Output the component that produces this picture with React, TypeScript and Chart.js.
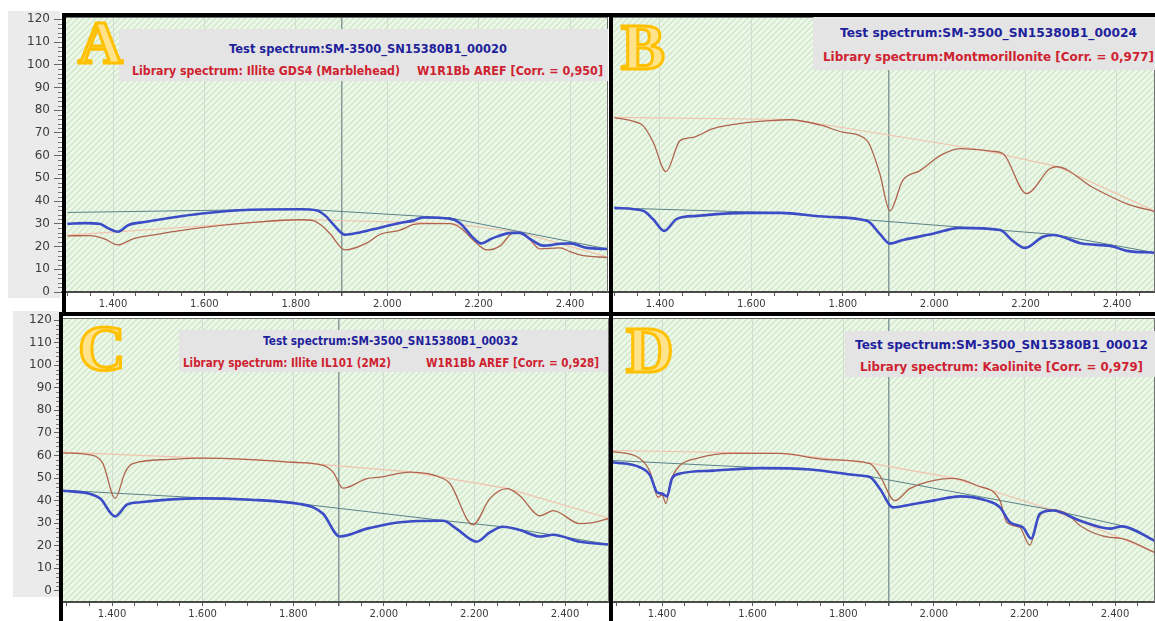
import React, { useEffect, useLayoutEffect, useRef } from 'react';
import { Chart, registerables } from 'chart.js';

Chart.register(...registerables);

type Pt = [number, number];

// ---- axis ticks ----
const xLabelTicks = [1.4, 1.6, 1.8, 2.0, 2.2, 2.4];
const xMinorTicks = [1.30, 1.35, 1.45, 1.50, 1.55, 1.65, 1.70, 1.75, 1.85, 1.90, 1.95, 2.05, 2.10, 2.15, 2.25, 2.30, 2.35, 2.45];
const markerWavelength = 1.9;
const yTicks = [0, 10, 20, 30, 40, 50, 60, 70, 80, 90, 100, 110, 120];

// ---- Panel A: test SM-3500_SN15380B1_00020 vs Illite GDS4 ----
const aTest: Pt[] = [[1.30,30.0],[1.34,30.3],[1.37,30.0],[1.39,28.0],[1.411,26.5],[1.433,29.4],[1.47,30.8],[1.59,34.4],[1.70,36.2],[1.81,36.4],[1.846,35.9],[1.865,33.5],[1.881,30.0],[1.908,25.2],[1.94,26.2],[1.984,28.3],[2.028,30.4],[2.056,31.4],[2.078,32.8],[2.137,32.3],[2.159,30.4],[2.185,24.5],[2.205,21.4],[2.23,23.6],[2.273,26.0],[2.29,26.0],[2.315,23.0],[2.341,20.4],[2.378,21.2],[2.40,21.4],[2.437,19.4],[2.483,18.9]];
const aTestHull: Pt[] = [[1.30,35.0],[1.81,36.5],[2.137,32.6],[2.483,18.9]];
const aLib: Pt[] = [[1.30,24.7],[1.35,24.8],[1.38,23.5],[1.411,20.7],[1.444,23.4],[1.50,25.5],[1.59,28.2],[1.70,30.5],[1.809,31.8],[1.838,31.4],[1.858,29.0],[1.875,25.6],[1.908,18.5],[1.956,21.6],[1.984,25.3],[2.028,27.2],[2.056,29.6],[2.078,30.1],[2.137,30.1],[2.159,28.4],[2.197,21.2],[2.218,18.5],[2.247,20.3],[2.273,25.7],[2.29,26.2],[2.31,23.5],[2.334,19.0],[2.378,19.4],[2.40,17.8],[2.422,16.3],[2.483,15.1]];
const aLibHull: Pt[] = [[1.30,25.0],[1.809,31.9],[2.137,30.2],[2.29,26.3],[2.483,15.3]];

// ---- Panel B: test SM-3500_SN15380B1_00024 vs Montmorillonite ----
const bTest: Pt[] = [[1.30,37.0],[1.363,35.7],[1.385,32.0],[1.409,26.9],[1.437,32.2],[1.481,33.5],[1.59,34.8],[1.663,34.8],[1.765,33.1],[1.853,31.3],[1.881,25.6],[1.903,21.3],[1.932,22.9],[1.997,25.6],[2.056,28.2],[2.144,27.3],[2.172,22.5],[2.199,19.4],[2.238,24.3],[2.26,25.1],[2.326,21.2],[2.385,20.3],[2.422,18.1],[2.483,17.3]];
const bTestHull: Pt[] = [[1.30,37.0],[1.65,34.9],[2.26,25.4],[2.483,17.3]];
const bLib: Pt[] = [[1.30,76.7],[1.34,75.2],[1.363,73.2],[1.385,66.0],[1.413,53.0],[1.444,66.6],[1.472,68.0],[1.516,71.9],[1.59,74.5],[1.641,75.4],[1.684,75.8],[1.75,73.5],[1.80,70.3],[1.853,66.6],[1.881,52.0],[1.903,35.7],[1.931,49.0],[1.969,53.4],[2.013,60.0],[2.056,63.1],[2.129,61.9],[2.151,60.8],[2.202,43.3],[2.253,54.2],[2.268,55.1],[2.347,46.0],[2.422,38.8],[2.483,35.4]];
const bLibHull: Pt[] = [[1.30,76.8],[1.69,75.9],[2.10,62.6],[2.268,55.3],[2.483,35.6]];

// ---- Panel C: test SM-3500_SN15380B1_00032 vs Illite IL101 (2M2) ----
const cTest: Pt[] = [[1.29,44.4],[1.351,43.0],[1.374,40.9],[1.407,33.0],[1.433,38.2],[1.462,39.3],[1.594,41.0],[1.705,40.4],[1.815,38.5],[1.844,37.0],[1.866,34.2],[1.903,24.1],[1.963,27.6],[1.992,28.9],[2.036,30.4],[2.064,30.9],[2.131,31.1],[2.16,27.6],[2.205,21.8],[2.234,25.9],[2.263,28.4],[2.30,27.0],[2.345,24.1],[2.374,24.9],[2.433,21.8],[2.497,20.6]];
const cTestHull: Pt[] = [[1.29,44.6],[1.60,41.2],[1.705,40.6],[1.815,38.6],[2.131,31.2],[2.263,28.4],[2.497,20.6]];
const cLib: Pt[] = [[1.29,61.2],[1.358,60.0],[1.38,56.4],[1.407,41.0],[1.429,52.6],[1.446,56.4],[1.521,58.2],[1.594,58.8],[1.705,58.2],[1.80,57.0],[1.866,55.6],[1.888,52.6],[1.91,45.5],[1.963,49.8],[1.992,50.4],[2.058,52.6],[2.131,49.8],[2.146,47.6],[2.197,29.3],[2.234,40.9],[2.272,45.3],[2.30,42.2],[2.345,33.3],[2.374,35.6],[2.433,29.8],[2.462,30.3],[2.497,32.1]];
const cLibHull: Pt[] = [[1.29,61.5],[1.594,58.9],[1.705,58.3],[1.80,57.1],[2.058,52.7],[2.272,45.4],[2.497,32.2]];

// ---- Panel D: test SM-3500_SN15380B1_00012 vs Kaolinite ----
const dTest: Pt[] = [[1.29,57.0],[1.351,54.8],[1.374,51.1],[1.389,43.7],[1.40,43.1],[1.411,41.9],[1.422,49.8],[1.44,52.0],[1.513,53.3],[1.616,54.4],[1.727,53.8],[1.837,51.1],[1.859,50.5],[1.881,45.3],[1.91,37.0],[1.947,38.2],[1.998,40.0],[2.058,41.9],[2.117,40.0],[2.146,37.0],[2.168,30.4],[2.197,28.1],[2.215,23.2],[2.234,34.2],[2.263,35.6],[2.323,31.1],[2.389,27.6],[2.415,28.6],[2.488,22.2]];
const dTestHull: Pt[] = [[1.29,57.8],[1.616,54.6],[1.727,54.0],[1.859,50.7],[2.263,35.8],[2.415,28.9],[2.488,22.4]];
const dLib: Pt[] = [[1.29,61.8],[1.351,58.7],[1.374,52.6],[1.391,41.5],[1.40,42.5],[1.409,38.7],[1.418,48.0],[1.44,55.6],[1.477,58.7],[1.55,60.9],[1.66,60.9],[1.764,58.2],[1.859,56.4],[1.881,51.1],[1.914,40.0],[1.947,45.3],[1.998,48.9],[2.042,49.9],[2.095,46.7],[2.146,40.0],[2.161,30.4],[2.19,28.1],[2.212,20.3],[2.23,32.0],[2.256,36.0],[2.294,34.2],[2.323,28.9],[2.389,23.7],[2.411,23.4],[2.488,17.0]];
const dLibHull: Pt[] = [[1.29,62.2],[1.66,60.9],[1.859,56.6],[2.042,50.1],[2.256,36.2],[2.488,17.2]];

// ---- annotation texts ----
const testTitles = ['Test spectrum:SM-3500_SN15380B1_00020', 'Test spectrum:SM-3500_SN15380B1_00024', 'Test spectrum:SM-3500_SN15380B1_00032', 'Test spectrum:SM-3500_SN15380B1_00012'];
const libTitles = ['Library spectrum: Illite GDS4 (Marblehead)', 'Library spectrum:Montmorillonite [Corr. = 0,977]', 'Library spectrum: Illite IL101 (2M2)', 'Library spectrum: Kaolinite [Corr. = 0,979]'];
const methodTitles = ['W1R1Bb AREF [Corr. = 0,950]', '', 'W1R1Bb AREF [Corr. = 0,928]', ''];
const panelLetters = ['A', 'B', 'C', 'D'];

// ---- styles ----
const BLUE = '#3b4cc6';
const TEAL = '#5a8288';
const BROWN = '#b0644e';
const PEACH = '#f2c2ad';
const GRID = '#d2ddd2';
const MARKER = '#869a9a';
const TEXT_BLUE = '#1f1f9c';
const TEXT_RED = '#cf2230';
const FONT = '"DejaVu Sans", Verdana, sans-serif';

const near = (a: number, b: number) => Math.abs(a - b) < 1e-6;
const allXTicks = [...xMinorTicks, ...xLabelTicks].sort((a, b) => a - b);
const toXY = (pts: Pt[]) => pts.map(([x, y]) => ({ x, y }));

const panelPlugin = {
  id: 'panelDecor',
  beforeDraw(chart: any) {
    const { ctx, chartArea: a } = chart;
    const tile = document.createElement('canvas');
    tile.width = 6; tile.height = 6;
    const t = tile.getContext('2d')!;
    t.fillStyle = '#eef8ea';
    t.fillRect(0, 0, 6, 6);
    t.strokeStyle = '#cfe8c7';
    t.lineWidth = 1.5;
    t.beginPath();
    t.moveTo(-1, 7); t.lineTo(7, -1);
    t.moveTo(-1, 1); t.lineTo(1, -1);
    t.moveTo(5, 7); t.lineTo(7, 5);
    t.stroke();
    ctx.save();
    ctx.fillStyle = ctx.createPattern(tile, 'repeat');
    ctx.fillRect(a.left, a.top, a.right - a.left, a.bottom - a.top);
    ctx.restore();
  },
  afterDraw(chart: any) {
    const { ctx, chartArea: a } = chart;
    ctx.save();
    ctx.strokeStyle = '#707070';
    ctx.lineWidth = 1;
    ctx.beginPath();
    ctx.moveTo(a.left, a.top + 0.5); ctx.lineTo(a.right, a.top + 0.5);
    ctx.moveTo(a.right - 0.5, a.top); ctx.lineTo(a.right - 0.5, a.bottom);
    ctx.stroke();
    const ys = chart.scales.y;
    if (ys && ys.options.display) {
      ctx.strokeStyle = '#777';
      ctx.beginPath();
      for (let v = 2; v < 121; v += 2) {
        if (v % 10 === 0) continue;
        const py = Math.round(ys.getPixelForValue(v)) + 0.5;
        ctx.moveTo(a.left - 4, py); ctx.lineTo(a.left, py);
      }
      ctx.stroke();
    }
    ctx.restore();
  },
};

type PanelCfg = {
  test: Pt[]; testHull: Pt[]; lib: Pt[]; libHull: Pt[];
  canvas: { left: number; top: number; width: number; height: number };
  padTop: number; padRight: number; xAxisH: number; yAxisW: number; showY: boolean;
  xMin: number; xMax: number; yMin: number; yMax: number; yTickLen: number; yPad: number;
};

const panels: PanelCfg[] = [
  { test: aTest, testHull: aTestHull, lib: aLib, libHull: aLibHull, canvas: { left: 0, top: 0, width: 612, height: 312 }, padTop: 17, padRight: 4, xAxisH: 20, yAxisW: 62, showY: true, xMin: 1.2884, xMax: 2.4831, yMin: 0, yMax: 121, yTickLen: 8, yPad: 4 },
  { test: bTest, testHull: bTestHull, lib: bLib, libHull: bLibHull, canvas: { left: 610, top: 0, width: 545, height: 312 }, padTop: 17, padRight: 0, xAxisH: 20, yAxisW: 0, showY: false, xMin: 1.2906, xMax: 2.4832, yMin: 0, yMax: 121, yTickLen: 8, yPad: 4 },
  { test: cTest, testHull: cTestHull, lib: cLib, libHull: cLibHull, canvas: { left: 0, top: 312, width: 612, height: 309 }, padTop: 6, padRight: 3, xAxisH: 19, yAxisW: 60, showY: true, xMin: 1.2852, xMax: 2.4971, yMin: -4.9, yMax: 120.9, yTickLen: 6, yPad: 2 },
  { test: dTest, testHull: dTestHull, lib: dLib, libHull: dLibHull, canvas: { left: 610, top: 312, width: 545, height: 309 }, padTop: 6, padRight: 0, xAxisH: 19, yAxisW: 0, showY: false, xMin: 1.2852, xMax: 2.4883, yMin: -4.9, yMax: 120.9, yTickLen: 6, yPad: 2 },
];

function SpectrumPanel({ p }: { p: PanelCfg }) {
  const ref = useRef<HTMLCanvasElement>(null);
  useEffect(() => {
    const chart = new Chart(ref.current!, {
      type: 'line',
      data: {
        datasets: [
          { data: toXY(p.test), borderColor: BLUE, borderWidth: 2.6, cubicInterpolationMode: 'monotone', pointRadius: 0, fill: false },
          { data: toXY(p.lib), borderColor: BROWN, borderWidth: 1.3, cubicInterpolationMode: 'monotone', pointRadius: 0, fill: false },
          { data: toXY(p.testHull), borderColor: TEAL, borderWidth: 1, tension: 0, pointRadius: 0, fill: false },
          { data: toXY(p.libHull), borderColor: PEACH, borderWidth: 1.2, tension: 0, pointRadius: 0, fill: false },
        ] as any,
      },
      options: {
        animation: false,
        responsive: false,
        maintainAspectRatio: false,
        devicePixelRatio: 1,
        events: [],
        layout: { padding: { top: p.padTop, right: p.padRight, left: 0, bottom: 0 } },
        plugins: { legend: { display: false }, tooltip: { enabled: false } },
        scales: {
          x: {
            type: 'linear',
            min: p.xMin,
            max: p.xMax,
            afterBuildTicks: (s: any) => { s.ticks = allXTicks.map((v) => ({ value: v })); },
            afterFit: (s: any) => { s.height = p.xAxisH; s.paddingLeft = 0; s.paddingRight = 0; },
            ticks: {
              autoSkip: false,
              maxRotation: 0,
              padding: 2,
              color: '#3c3c3c',
              font: { family: FONT, size: 10 },
              callback: (v: any) => (xLabelTicks.some((t) => near(t, Number(v))) ? Number(v).toFixed(3) : ''),
            },
            grid: {
              drawOnChartArea: true,
              drawTicks: true,
              tickLength: 4,
              tickColor: '#5a5a5a',
              color: (c: any) => {
                const v = c.tick ? c.tick.value : NaN;
                if (near(v, markerWavelength)) return MARKER;
                if (xLabelTicks.some((t) => near(t, v))) return GRID;
                return 'rgba(0,0,0,0)';
              },
              lineWidth: (c: any) => (c.tick && near(c.tick.value, markerWavelength) ? 1.5 : 1),
            },
            border: { display: true, color: '#4a4a4a', width: 2 },
          },
          y: {
            type: 'linear',
            display: p.showY,
            min: p.yMin,
            max: p.yMax,
            afterBuildTicks: (s: any) => { s.ticks = yTicks.map((v) => ({ value: v })); },
            afterFit: (s: any) => { s.width = p.yAxisW; s.paddingTop = 0; s.paddingBottom = 0; },
            ticks: { padding: p.yPad, color: '#3c3c3c', font: { family: FONT, size: 12 } },
            grid: { drawOnChartArea: false, drawTicks: true, tickLength: p.yTickLen, tickColor: '#666', color: '#666' },
            border: { display: false },
          },
        },
      } as any,
      plugins: [panelPlugin],
    });
    return () => chart.destroy();
  }, []);
  const c = p.canvas;
  return (
    <canvas
      ref={ref}
      width={c.width}
      height={c.height}
      style={{ position: 'absolute', left: c.left, top: c.top, width: c.width, height: c.height }}
    />
  );
}

function FitText({ x, y, w, size, color, text }: { x: number; y: number; w: number; size: number; color: string; text: string }) {
  const ref = useRef<HTMLSpanElement>(null);
  useLayoutEffect(() => {
    const el = ref.current;
    if (!el) return;
    el.style.transform = 'none';
    const nat = el.getBoundingClientRect().width;
    if (nat > 0) el.style.transform = `scaleX(${w / nat})`;
  }, [w, text]);
  return (
    <span
      ref={ref}
      style={{
        position: 'absolute', left: x, top: y - size * 0.62, fontFamily: FONT, fontSize: size, fontWeight: 700,
        color, whiteSpace: 'pre', lineHeight: `${size * 1.2}px`, transformOrigin: 'left center',
      }}
    >
      {text}
    </span>
  );
}

const boxes = [
  { box: [119, 29, 489, 52], size: 12.5, t: [229, 48.5, 278], l: [132, 71, 268], m: [417, 71, 186] },
  { box: [813, 17, 342, 53], size: 13, t: [840, 33, 297], l: [823, 57.5, 331], m: null },
  { box: [179, 330, 429, 42], size: 11.5, t: [263, 342, 255], l: [183, 364, 208], m: [426, 364, 173] },
  { box: [845, 331, 310, 46], size: 13, t: [855, 345, 293], l: [860, 367.5, 283], m: null },
];

const letterPos = [
  { left: 78, top: 11, size: 62 },
  { left: 621, top: 13.5, size: 66 },
  { left: 78, top: 315, size: 66 },
  { left: 626, top: 316.5, size: 66 },
];

const blackBars = [
  [62, 13, 1093, 4],
  [62, 13, 4, 302],
  [59, 312, 1096, 4],
  [609, 13, 4, 608],
  [59, 312, 4, 309],
];

export default function App() {
  return (
    <div style={{ position: 'fixed', left: 0, top: 0, width: 1155, height: 621, background: '#fff', overflow: 'hidden' }}>
      <div style={{ position: 'absolute', left: 8, top: 11, width: 52, height: 287, background: '#ebebeb' }} />
      <div style={{ position: 'absolute', left: 13, top: 311, width: 47, height: 286, background: '#ebebeb' }} />
      {panels.map((p, i) => <SpectrumPanel key={i} p={p} />)}
      {boxes.map((b, i) => (
        <React.Fragment key={i}>
          <div style={{ position: 'absolute', left: b.box[0], top: b.box[1], width: b.box[2], height: b.box[3], background: '#e4e4e4' }} />
          <FitText x={b.t[0]} y={b.t[1]} w={b.t[2]} size={b.size} color={TEXT_BLUE} text={testTitles[i]} />
          <FitText x={b.l[0]} y={b.l[1]} w={b.l[2]} size={b.size} color={TEXT_RED} text={libTitles[i]} />
          {b.m && <FitText x={b.m[0]} y={b.m[1]} w={b.m[2]} size={b.size} color={TEXT_RED} text={methodTitles[i]} />}
        </React.Fragment>
      ))}
      {letterPos.map((l, i) => (
        <div
          key={i}
          style={{
            position: 'absolute', left: l.left, top: l.top, fontFamily: '"Liberation Serif", "DejaVu Serif", serif',
            fontWeight: 700, fontSize: l.size, lineHeight: `${l.size}px`, color: '#FFE38A',
            WebkitTextStroke: '3px #FFC000',
          }}
        >
          {panelLetters[i]}
        </div>
      ))}
      {blackBars.map((r, i) => (
        <div key={i} style={{ position: 'absolute', left: r[0], top: r[1], width: r[2], height: r[3], background: '#000' }} />
      ))}
    </div>
  );
}
